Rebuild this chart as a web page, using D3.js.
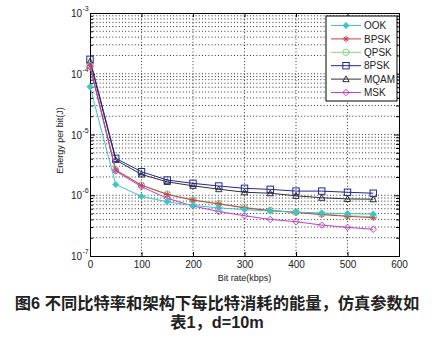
<!DOCTYPE html>
<html><head><meta charset="utf-8">
<script src="https://cdn.jsdelivr.net/npm/d3@7/dist/d3.min.js"></script>
<style>
body{margin:0;background:#fff;}
svg{display:block;}
</style></head>
<body>
<svg id="chart" width="434" height="341"></svg>
<script>
const bitRates = [0,50,100,150,200,250,300,350,400,450,500,550];
const ook  = [6.1e-5,1.5e-6,9.6e-7,7.8e-7,6.8e-7,6.2e-7,5.8e-7,5.5e-7,5.3e-7,5.1e-7,5.0e-7,4.9e-7];
const bpsk = [1.36e-4,2.6e-6,1.46e-6,1.03e-6,8.3e-7,7.2e-7,6.2e-7,5.6e-7,5.2e-7,4.8e-7,4.5e-7,4.27e-7];
const qpsk = [1.36e-4,2.6e-6,1.47e-6,1.05e-6,8.4e-7,7.3e-7,6.3e-7,5.65e-7,5.25e-7,4.9e-7,4.6e-7,4.45e-7];
const psk8 = [1.73e-4,4.05e-6,2.44e-6,1.78e-6,1.57e-6,1.42e-6,1.3e-6,1.25e-6,1.17e-6,1.17e-6,1.12e-6,1.08e-6];
const mqam = [1.6e-4,3.8e-6,2.2e-6,1.66e-6,1.43e-6,1.26e-6,1.12e-6,1.08e-6,9.8e-7,9.1e-7,8.7e-7,8.6e-7];
const msk  = [1.3e-4,2.5e-6,1.38e-6,8.9e-7,6.65e-7,5.4e-7,4.6e-7,4.0e-7,3.67e-7,3.23e-7,2.96e-7,2.75e-7];
const seriesNames = ["OOK","BPSK","QPSK","8PSK","MQAM","MSK"];
const seriesValues = [ook,bpsk,qpsk,psk8,mqam,msk];
const xTicks = [0,100,200,300,400,500,600];
const yExponents = [-3,-4,-5,-6,-7];
const xLabel = "Bit rate(kbps)";
const yLabel = "Energy per bit(J)";
const captionLines = ["图6 不同比特率和架构下每比特消耗的能量，仿真参数如","表1，d=10m"];

const colors = ["#3cc4c8","#c8404c","#80d880","#202890","#303030","#c040c0"];
const markers = ["dot","star","circle","square","triangle","diamond"];

const svg = d3.select("#chart");
const L=90,R=399,T=13,B=256;
const x = d3.scaleLinear().domain([0,600]).range([L,R]);
const y = d3.scaleLog().domain([1e-7,1e-3]).range([B,T]);
const FONT = "Liberation Sans, Arial, sans-serif";

// grid
const g = svg.append("g");
const minorVals=[];
for(let e=-7;e<-3;e++){for(let k=1;k<10;k++){minorVals.push(k*Math.pow(10,e));}}
const innerVals = minorVals.filter(v=>v>1e-7*1.001&&v<1e-3*0.999);
innerVals.forEach(v=>{
  g.append("line").attr("x1",L).attr("x2",R).attr("y1",y(v)).attr("y2",y(v))
   .attr("stroke","#000").attr("stroke-width",0.8).attr("stroke-dasharray","1,2.2");
});
xTicks.forEach(t=>{
  if(t===0||t===600) return;
  g.append("line").attr("x1",x(t)).attr("x2",x(t)).attr("y1",T).attr("y2",B)
   .attr("stroke","#000").attr("stroke-width",0.8).attr("stroke-dasharray","1,2.2");
});

// axes with inward ticks
const axB = d3.axisBottom(x).tickValues(xTicks).tickSize(-4).tickPadding(5).tickFormat(d3.format("d"));
const axT = d3.axisTop(x).tickValues(xTicks).tickSize(-4).tickFormat("");
const gb = svg.append("g").attr("transform",`translate(0,${B})`).call(axB);
const gt = svg.append("g").attr("transform",`translate(0,${T})`).call(axT);
[gb,gt].forEach(a=>{a.select(".domain").attr("stroke","#000");a.selectAll("line").attr("stroke","#000");});
gb.selectAll("text").attr("font-family",FONT).attr("font-size",10).attr("fill","#222");

const majorY = yExponents.map(e=>Math.pow(10,e));
const minorTickVals = innerVals.filter(v=>!majorY.some(m=>Math.abs(m-v)/m<1e-6));
const axL = d3.axisLeft(y).tickValues(majorY).tickSize(-5).tickFormat("");
const axR = d3.axisRight(y).tickValues(majorY).tickSize(-5).tickFormat("");
const gl = svg.append("g").attr("transform",`translate(${L},0)`).call(axL);
const gr = svg.append("g").attr("transform",`translate(${R},0)`).call(axR);
const axLm = d3.axisLeft(y).tickValues(minorTickVals).tickSize(-3).tickFormat("");
const axRm = d3.axisRight(y).tickValues(minorTickVals).tickSize(-3).tickFormat("");
const glm = svg.append("g").attr("transform",`translate(${L},0)`).call(axLm);
const grm = svg.append("g").attr("transform",`translate(${R},0)`).call(axRm);
[gl,gr,glm,grm].forEach(a=>{a.select(".domain").attr("stroke","#000");a.selectAll("line").attr("stroke","#000");});

// y tick labels 10^e
yExponents.forEach(e=>{
  svg.append("text").attr("x",82).attr("y",y(Math.pow(10,e))+4)
    .attr("text-anchor","end").attr("font-family",FONT)
    .attr("font-size",10).attr("fill","#222").text("10");
  svg.append("text").attr("x",82.5).attr("y",y(Math.pow(10,e))-2)
    .attr("font-family",FONT)
    .attr("font-size",7).attr("fill","#222").text(String(e));
});

// axis labels
svg.append("text").attr("x",(L+R)/2).attr("y",281).attr("text-anchor","middle")
  .attr("font-family",FONT).attr("font-size",9).attr("fill","#222").text(xLabel);
svg.append("text").attr("transform",`translate(63,${(T+B)/2+6}) rotate(-90)`).attr("text-anchor","middle")
  .attr("font-family",FONT).attr("font-size",9).attr("fill","#222").text(yLabel);

// marker drawing
function drawMarker(sel,type,cx,cy,color){
  const s=3.2;
  if(type==="dot"){
    sel.append("path").attr("d",`M${cx},${cy-s}L${cx+s},${cy}L${cx},${cy+s}L${cx-s},${cy}Z`).attr("fill",color).attr("stroke",color).attr("stroke-width",0.6);
  } else if(type==="star"){
    const p=`M${cx-s},${cy}L${cx+s},${cy}M${cx},${cy-s}L${cx},${cy+s}M${cx-s*0.7},${cy-s*0.7}L${cx+s*0.7},${cy+s*0.7}M${cx-s*0.7},${cy+s*0.7}L${cx+s*0.7},${cy-s*0.7}`;
    sel.append("path").attr("d",p).attr("stroke",color).attr("stroke-width",1).attr("fill","none");
  } else if(type==="circle"){
    sel.append("circle").attr("cx",cx).attr("cy",cy).attr("r",s).attr("fill","none").attr("stroke",color).attr("stroke-width",1);
  } else if(type==="square"){
    sel.append("rect").attr("x",cx-s).attr("y",cy-s).attr("width",2*s).attr("height",2*s).attr("fill","none").attr("stroke",color).attr("stroke-width",1);
  } else if(type==="triangle"){
    sel.append("path").attr("d",`M${cx},${cy-s}L${cx+s},${cy+s*0.8}L${cx-s},${cy+s*0.8}Z`).attr("fill","none").attr("stroke",color).attr("stroke-width",1);
  } else if(type==="diamond"){
    sel.append("path").attr("d",`M${cx},${cy-s}L${cx+s},${cy}L${cx},${cy+s}L${cx-s},${cy}Z`).attr("fill","none").attr("stroke",color).attr("stroke-width",1);
  }
}

const line = d3.line().x((d,i)=>x(bitRates[i])).y(d=>y(d));
const plotG = svg.append("g");
const drawOrder=[4,3,2,1,5,0];
drawOrder.forEach(si=>{
  const vals=seriesValues[si];
  plotG.append("path").datum(vals).attr("d",line).attr("fill","none")
    .attr("stroke",colors[si]).attr("stroke-width",1);
  vals.forEach((v,i)=>drawMarker(plotG,markers[si],x(bitRates[i]),y(v),colors[si]));
});

// legend
const lg = svg.append("g");
lg.append("rect").attr("x",326).attr("y",16).attr("width",71).attr("height",85)
  .attr("fill","#fff").attr("stroke","#000").attr("stroke-width",1);
seriesNames.forEach((n,i)=>{
  const ly = 25.5 + i*13.4;
  lg.append("line").attr("x1",331).attr("x2",361).attr("y1",ly).attr("y2",ly).attr("stroke",colors[i]).attr("stroke-width",1);
  drawMarker(lg,markers[i],346,ly,colors[i]);
  lg.append("text").attr("x",364).attr("y",ly+3.6).attr("font-family",FONT)
    .attr("font-size",10).attr("fill","#222").text(n);
});

// caption
captionLines.forEach((c,i)=>{
  svg.append("text").attr("x",217).attr("y",309+i*19).attr("text-anchor","middle")
    .attr("font-family","Liberation Sans, Noto Sans CJK SC").attr("font-weight","bold").attr("font-size",16.3)
    .attr("fill","#222").text(c);
});
</script>
</body></html>
